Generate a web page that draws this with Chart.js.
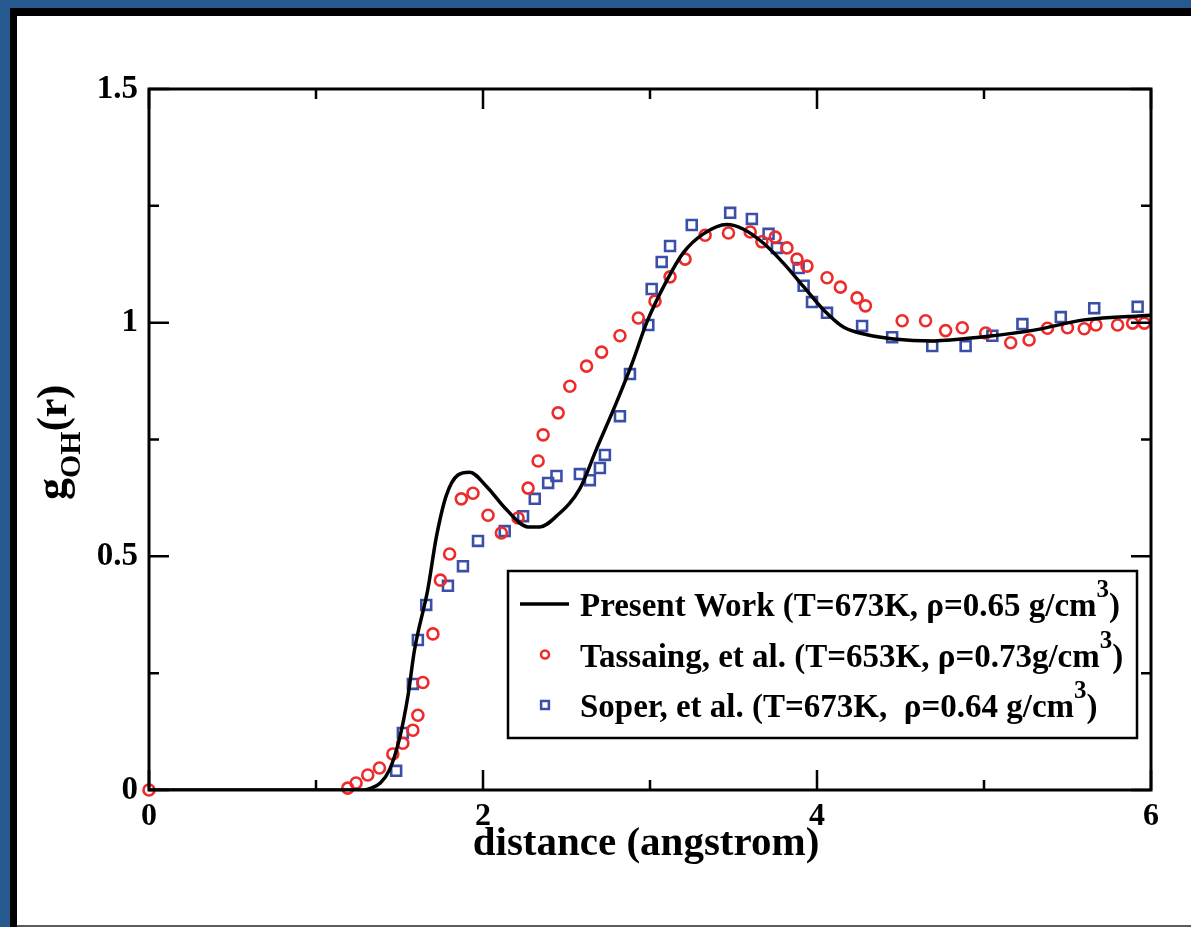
<!DOCTYPE html>
<html>
<head>
<meta charset="utf-8">
<script src="https://cdn.jsdelivr.net/npm/chart.js@4.4.1/dist/chart.umd.min.js"></script>
<style>
  html, body { margin: 0; padding: 0; }
  body { width: 1191px; height: 927px; background: #25598f; position: relative; overflow: hidden; }
  #paper { position: absolute; left: 10px; top: 8px; right: 0; bottom: 0; background: #fff;
           border-left: 7px solid #000; border-top: 8px solid #000; }
  #edge { position: absolute; left: 17px; right: 0; bottom: 0; height: 2px; background: #5a5a5a; }
  canvas { position: absolute; left: 0; top: 0; }
</style>
</head>
<body>
<div id="paper"></div>
<div id="edge"></div>
<canvas id="gofr" width="1191" height="927"></canvas>
<script>
  // g_OH(r) data
  const presentX = [0, 0.5, 1.0, 1.2, 1.29, 1.33, 1.385, 1.44, 1.50, 1.55, 1.59, 1.67, 1.72, 1.78, 1.85, 1.92, 2.02, 2.14, 2.27, 2.34, 2.44, 2.58, 2.68, 2.80, 2.90, 2.98, 3.10, 3.20, 3.32, 3.46, 3.56, 3.68, 3.80, 3.92, 4.04, 4.16, 4.30, 4.46, 4.70, 5.0, 5.30, 5.60, 6.0];
  const presentY = [0, 0, 0, 0, 0, 0.004, 0.015, 0.043, 0.11, 0.20, 0.30, 0.43, 0.54, 0.63, 0.674, 0.68, 0.65, 0.60, 0.563, 0.563, 0.586, 0.645, 0.73, 0.83, 0.92, 1.0, 1.09, 1.15, 1.19, 1.21, 1.20, 1.17, 1.127, 1.077, 1.027, 0.99, 0.974, 0.965, 0.961, 0.97, 0.984, 1.006, 1.016];

  const tassaingX = [0, 1.19, 1.24, 1.31, 1.38, 1.46, 1.52, 1.58, 1.61, 1.64, 1.70, 1.745, 1.80, 1.87, 1.94, 2.03, 2.11, 2.21, 2.27, 2.33, 2.36, 2.45, 2.52, 2.62, 2.71, 2.82, 2.93, 3.03, 3.12, 3.21, 3.33, 3.47, 3.60, 3.67, 3.75, 3.82, 3.88, 3.94, 4.06, 4.14, 4.24, 4.29, 4.51, 4.65, 4.77, 4.87, 5.01, 5.16, 5.27, 5.38, 5.50, 5.60, 5.67, 5.80, 5.89, 5.96];
  const tassaingY = [0, 0.004, 0.015, 0.032, 0.047, 0.077, 0.10, 0.128, 0.16, 0.23, 0.334, 0.449, 0.505, 0.623, 0.635, 0.588, 0.55, 0.582, 0.646, 0.704, 0.76, 0.807, 0.864, 0.907, 0.937, 0.972, 1.01, 1.046, 1.098, 1.136, 1.187, 1.192, 1.194, 1.173, 1.183, 1.16, 1.136, 1.121, 1.096, 1.076, 1.053, 1.036, 1.004, 1.004, 0.983, 0.989, 0.978, 0.957, 0.963, 0.988, 0.989, 0.987, 0.995, 0.995, 0.999, 0.999];

  const soperX = [1.48, 1.52, 1.58, 1.61, 1.66, 1.79, 1.88, 1.97, 2.13, 2.24, 2.31, 2.39, 2.44, 2.58, 2.64, 2.70, 2.73, 2.82, 2.88, 2.99, 3.01, 3.07, 3.12, 3.25, 3.48, 3.61, 3.71, 3.76, 3.89, 3.92, 3.97, 4.06, 4.27, 4.45, 4.69, 4.89, 5.05, 5.23, 5.46, 5.66, 5.92];
  const soperY = [0.041, 0.122, 0.227, 0.321, 0.396, 0.437, 0.479, 0.533, 0.554, 0.586, 0.623, 0.657, 0.672, 0.676, 0.663, 0.689, 0.717, 0.80, 0.89, 0.995, 1.072, 1.13, 1.164, 1.209, 1.235, 1.222, 1.19, 1.16, 1.117, 1.079, 1.044, 1.021, 0.993, 0.969, 0.95, 0.95, 0.972, 0.997, 1.012, 1.031, 1.034];

  // legend text, split around the superscript
  const legendText = [
    ['Present Work (T=673K, \u03c1=0.65 g/cm', '3', ')'],
    ['Tassaing, et al. (T=653K, \u03c1=0.73g/cm', '3', ')'],
    ['Soper, et al. (T=673K,  \u03c1=0.64 g/cm', '3', ')']
  ];

  const xMajorTicks = [0, 2, 4, 6];
  const xTickLabels = ['0', '2', '4', '6'];
  const xMinorTicks = [1, 3, 5];
  const yMajorTicks = [0, 0.5, 1, 1.5];
  const yTickLabels = ['0', '0.5', '1', '1.5'];
  const yMinorTicks = [0.25, 0.75, 1.25];

  const SERIF = '"Liberation Serif", "Times New Roman", serif';
  const RED = '#ee2b2b';
  const BLUE = '#3b4fa8';

  const toPoints = (xs, ys) => xs.map((x, i) => ({ x: x, y: ys[i] }));

  // inward ticks on all four sides plus the frame
  const frameTicks = {
    id: 'frameTicks',
    afterDatasetsDraw(chart) {
      const { ctx, chartArea: a, scales: { x, y } } = chart;
      ctx.save();
      ctx.strokeStyle = '#000';
      ctx.lineWidth = 2.5;
      ctx.beginPath();
      const xt = (v, len) => {
        const px = x.getPixelForValue(v);
        ctx.moveTo(px, a.bottom); ctx.lineTo(px, a.bottom - len);
        ctx.moveTo(px, a.top); ctx.lineTo(px, a.top + len);
      };
      const yt = (v, len) => {
        const py = y.getPixelForValue(v);
        ctx.moveTo(a.left, py); ctx.lineTo(a.left + len, py);
        ctx.moveTo(a.right, py); ctx.lineTo(a.right - len, py);
      };
      xMajorTicks.forEach(v => xt(v, 20));
      xMinorTicks.forEach(v => xt(v, 10));
      yMajorTicks.forEach(v => yt(v, 20));
      yMinorTicks.forEach(v => yt(v, 10));
      ctx.stroke();
      ctx.lineWidth = 3;
      ctx.strokeRect(a.left, a.top, a.right - a.left, a.bottom - a.top);
      ctx.restore();
    }
  };

  // axis titles (y has a subscript)
  const axisTitles = {
    id: 'axisTitles',
    afterDraw(chart) {
      const { ctx, chartArea: a } = chart;
      ctx.save();
      ctx.fillStyle = '#000';
      ctx.textBaseline = 'alphabetic';
      ctx.font = 'bold 41px ' + SERIF;
      ctx.textAlign = 'center';
      ctx.fillText('distance (angstrom)', (a.left + a.right) / 2 - 4, 855);

      ctx.translate(66, 500);
      ctx.rotate(-Math.PI / 2);
      ctx.textAlign = 'left';
      ctx.font = 'bold 44px ' + SERIF;
      ctx.fillText('g', 0, 0);
      let w = ctx.measureText('g').width;
      ctx.font = 'bold 30px ' + SERIF;
      ctx.fillText('OH', w, 14);
      w += ctx.measureText('OH').width;
      ctx.font = 'bold 42px ' + SERIF;
      ctx.fillText('(r)', w, 0);
      ctx.restore();
    }
  };

  // legend box with superscripts
  const legendBox = {
    id: 'legendBox',
    afterDraw(chart) {
      const { ctx } = chart;
      const ds = chart.data.datasets;
      const left = 508, top = 571, right = 1137, bottom = 738;
      ctx.save();
      ctx.fillStyle = '#fff';
      ctx.fillRect(left, top, right - left, bottom - top);
      ctx.strokeStyle = '#000';
      ctx.lineWidth = 2.5;
      ctx.strokeRect(left, top, right - left, bottom - top);

      legendText.forEach((parts, i) => {
        const cy = 604 + i * 50.5;
        const d = ds[i];
        ctx.strokeStyle = d.borderColor;
        if (d.showLine) {
          ctx.lineWidth = 3.5;
          ctx.beginPath();
          ctx.moveTo(520, cy); ctx.lineTo(569, cy);
          ctx.stroke();
        } else {
          ctx.fillStyle = 'rgba(0,0,0,0)';
          ctx.lineWidth = 2.5;
          Chart.helpers.drawPoint(ctx, { pointStyle: d.pointStyle, radius: d.pointStyle === 'rect' ? 5.5 : 4, borderWidth: 2.5 }, 545, cy);
        }
        ctx.fillStyle = '#000';
        ctx.textAlign = 'left';
        ctx.textBaseline = 'alphabetic';
        let x = 580;
        const base = cy + 12;
        ctx.font = 'bold 33px ' + SERIF;
        ctx.fillText(parts[0], x, base);
        x += ctx.measureText(parts[0]).width;
        ctx.font = 'bold 25px ' + SERIF;
        ctx.fillText(parts[1], x, base - 19);
        x += ctx.measureText(parts[1]).width;
        ctx.font = 'bold 33px ' + SERIF;
        ctx.fillText(parts[2], x, base);
      });
      ctx.restore();
    }
  };

  const ctx = document.getElementById('gofr').getContext('2d');
  new Chart(ctx, {
    type: 'scatter',
    data: {
      datasets: [
        {
          label: 'Present Work',
          data: toPoints(presentX, presentY),
          showLine: true,
          borderColor: '#000',
          borderWidth: 3.5,
          pointRadius: 0,
          cubicInterpolationMode: 'monotone',
          fill: false
        },
        {
          label: 'Tassaing, et al.',
          data: toPoints(tassaingX, tassaingY),
          pointStyle: 'circle',
          pointRadius: 5.5,
          borderWidth: 2.6,
          borderColor: RED,
          backgroundColor: 'rgba(0,0,0,0)',
          clip: false
        },
        {
          label: 'Soper, et al.',
          data: toPoints(soperX, soperY),
          pointStyle: 'rect',
          pointRadius: 7,
          borderWidth: 2.6,
          borderColor: BLUE,
          backgroundColor: 'rgba(0,0,0,0)'
        }
      ]
    },
    options: {
      responsive: false,
      animation: false,
      events: [],
      layout: { padding: { top: 89, right: 40, left: 0, bottom: 0 } },
      plugins: {
        legend: { display: false },
        tooltip: { enabled: false }
      },
      scales: {
        x: {
          type: 'linear',
          min: 0,
          max: 6,
          afterFit: s => { s.height = 137; },
          grid: { display: false, drawTicks: false },
          border: { display: false },
          ticks: {
            stepSize: 1,
            autoSkip: false,
            maxRotation: 0,
            padding: 8,
            color: '#000',
            font: { family: SERIF, size: 32, weight: 'bold' },
            callback: v => {
              const i = xMajorTicks.indexOf(v);
              return i >= 0 ? xTickLabels[i] : '';
            }
          }
        },
        y: {
          type: 'linear',
          min: 0,
          max: 1.5,
          afterFit: s => { s.width = 149; },
          grid: { display: false, drawTicks: false },
          border: { display: false },
          ticks: {
            stepSize: 0.25,
            autoSkip: false,
            padding: 11,
            color: '#000',
            font: { family: SERIF, size: 33, weight: 'bold' },
            callback: v => {
              const i = yMajorTicks.indexOf(v);
              return i >= 0 ? yTickLabels[i] : '';
            }
          }
        }
      }
    },
    plugins: [frameTicks, axisTitles, legendBox]
  });
</script>
</body>
</html>
